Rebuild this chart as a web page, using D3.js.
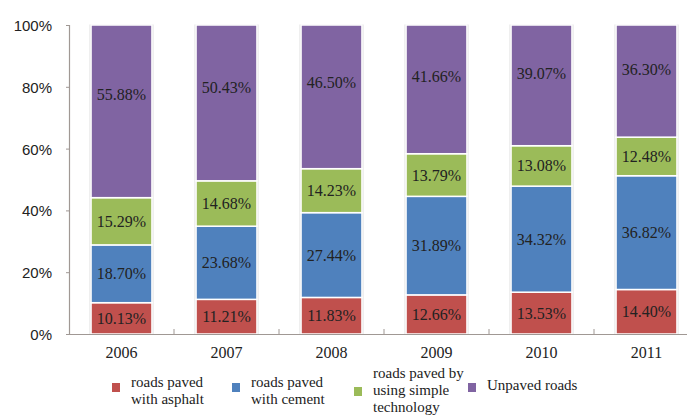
<!DOCTYPE html>
<html>
<head>
<meta charset="utf-8">
<script src="https://cdn.jsdelivr.net/npm/d3@7"></script>
<style>
  html, body { margin: 0; padding: 0; background: #fff; }
  svg { display: block; }
  .serif { font-family: "Liberation Serif", "Times New Roman", serif; }
  .sans { font-family: "Liberation Sans", Arial, sans-serif; }
</style>
</head>
<body>
<svg id="chart" width="687" height="416"></svg>
<script>
// Share of rural road length by surface type (percent of total)
const years = ["2006", "2007", "2008", "2009", "2010", "2011"];
const asphalt = [10.13, 11.21, 11.83, 12.66, 13.53, 14.40];
const cement = [18.70, 23.68, 27.44, 31.89, 34.32, 36.82];
const simpleTech = [15.29, 14.68, 14.23, 13.79, 13.08, 12.48];
const unpaved = [55.88, 50.43, 46.50, 41.66, 39.07, 36.30];

const seriesNames = ["roads paved with asphalt", "roads paved with cement",
  "roads paved by using simple technology", "Unpaved roads"];
const legendLines = [["roads paved", "with asphalt"], ["roads paved", "with cement"],
  ["roads paved by", "using simple", "technology"], ["Unpaved roads"]];
const yTicks = [0, 20, 40, 60, 80, 100];

const colors = ["#c0504d", "#4f81bd", "#9bbb59", "#8064a2"];
const keys = ["asphalt", "cement", "simpleTech", "unpaved"];

const rows = years.map((y, i) => ({
  year: y, asphalt: asphalt[i], cement: cement[i],
  simpleTech: simpleTech[i], unpaved: unpaved[i]
}));

const svg = d3.select("#chart");
const axisX = 69, plotTop = 25, plotBottom = 334;
const band = 105;

const x = d3.scaleBand().domain(years)
  .range([axisX, axisX + band * years.length]).paddingInner(0.42).paddingOuter(0.21);
const y = d3.scaleLinear().domain([0, 100]).range([plotBottom, plotTop]);

const stack = d3.stack().keys(keys).value((d, k) => d[k]);
const layers = stack(rows);

// Faint outline behind each column
svg.append("g").selectAll("rect").data(rows).join("rect")
  .attr("x", d => x(d.year) - 1.5)
  .attr("y", y(100) - 0.5)
  .attr("width", x.bandwidth() + 3)
  .attr("height", y(0) - y(100) + 0.5)
  .attr("fill", "#dcdcdc");

// Stacked segments
const segG = svg.append("g");
layers.forEach((layer, li) => {
  segG.append("g").selectAll("rect").data(layer).join("rect")
    .attr("x", d => x(d.data.year))
    .attr("y", d => y(d[1]))
    .attr("width", x.bandwidth())
    .attr("height", d => y(d[0]) - y(d[1]))
    .attr("fill", colors[li])
    .attr("stroke", "#fff")
    .attr("stroke-width", 1.5);
});

// Value labels inside the segments; the top segment's label sits in its upper part
const labelG = svg.append("g").attr("class", "serif")
  .attr("font-size", 16).attr("fill", "#222").attr("text-anchor", "middle");
layers.forEach((layer, li) => {
  const frac = li === layers.length - 1 ? 0.4 : 0.5;
  labelG.append("g").selectAll("text").data(layer).join("text")
    .attr("class", "serif")
    .attr("x", d => x(d.data.year) + x.bandwidth() / 2)
    .attr("y", d => y(d[1]) + frac * (y(d[0]) - y(d[1])) + 5.5)
    .text(d => d.data[keys[li]].toFixed(2) + "%");
});

// Y axis
const yAxis = d3.axisLeft(y).tickValues(yTicks).tickSize(3).tickFormat(d => d + "%");
const yg = svg.append("g").attr("transform", `translate(${axisX},0)`).call(yAxis);
yg.attr("font-family", null);
yg.select(".domain").attr("stroke", "#a09894").attr("stroke-width", 1.2);
yg.selectAll(".tick line").attr("stroke", "#a09894");
yg.selectAll(".tick text")
  .attr("class", "sans")
  .attr("font-size", 15).attr("fill", "#222").attr("x", -17).attr("dy", "0.36em");

// X axis: line with category separators
const xg = svg.append("g");
xg.append("line")
  .attr("x1", axisX).attr("x2", axisX + band * years.length)
  .attr("y1", plotBottom + 0.5).attr("y2", plotBottom + 0.5)
  .attr("stroke", "#a09894").attr("stroke-width", 1.2);
xg.selectAll("line.sep").data(d3.range(1, years.length)).join("line")
  .attr("class", "sep")
  .attr("x1", i => axisX + band * i).attr("x2", i => axisX + band * i)
  .attr("y1", plotBottom - 5).attr("y2", plotBottom)
  .attr("stroke", "#a09894");
xg.selectAll("text").data(years).join("text")
  .attr("class", "serif")
  .attr("x", d => x(d) + x.bandwidth() / 2)
  .attr("y", 358)
  .attr("text-anchor", "middle")
  .attr("font-size", 16).attr("fill", "#222")
  .text(d => d);

// Legend
const legendX = [112, 232, 354, 468];
const legendSquareY = [383, 383, 387, 383];
const legendTextY = [387, 387, 378, 390];
const lg = svg.append("g").attr("font-size", 15).attr("fill", "#222");
seriesNames.forEach((name, i) => {
  const g = lg.append("g").attr("class", "legend-item").attr("data-name", name);
  g.append("rect")
    .attr("x", legendX[i]).attr("y", legendSquareY[i])
    .attr("width", 8).attr("height", 9)
    .attr("fill", colors[i]);
  const t = g.append("text").attr("class", "serif")
    .attr("x", legendX[i] + 19).attr("y", legendTextY[i]);
  legendLines[i].forEach((line, j) => {
    t.append("tspan").attr("x", legendX[i] + 19)
      .attr("dy", j === 0 ? 0 : 17).text(line);
  });
});
</script>
</body>
</html>
